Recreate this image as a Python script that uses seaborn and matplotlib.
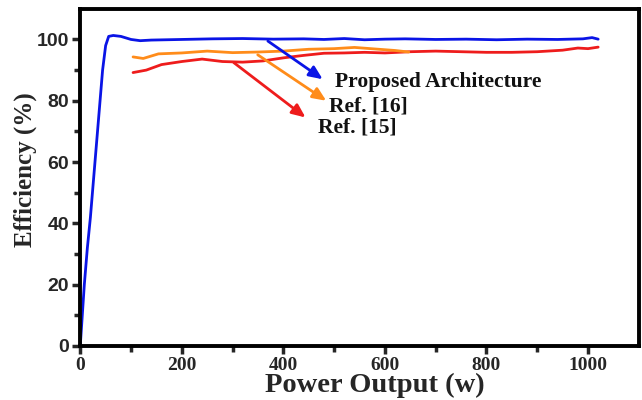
import matplotlib
matplotlib.use("Agg")
import matplotlib.pyplot as plt
import seaborn as sns
import pandas as pd

# Proposed Architecture
prop_x = [0, 4, 8, 14, 20, 26, 32, 38, 44, 50, 56, 65, 80, 100, 118, 140, 200, 260, 320, 380, 440, 480, 520, 560, 600, 640, 700, 760, 820, 880, 940, 990, 1008, 1020]
prop_y = [0, 10, 20, 32, 42, 54, 66, 78, 90, 98, 101, 101.3, 101.0, 100.0, 99.6, 99.8, 100.0, 100.2, 100.3, 100.1, 100.2, 100.0, 100.3, 99.9, 100.1, 100.2, 100.0, 100.1, 99.9, 100.1, 100.0, 100.2, 100.6, 100.1]

# Ref. [16]
ref16_x = [104, 124, 154, 200, 250, 300, 350, 400, 450, 500, 540, 580, 620, 647]
ref16_y = [94.3, 93.8, 95.3, 95.6, 96.2, 95.7, 95.9, 96.2, 96.8, 97.0, 97.4, 96.9, 96.4, 95.9]

# Ref. [15]
ref15_x = [104, 130, 160, 200, 240, 280, 320, 360, 400, 440, 480, 520, 560, 600, 650, 700, 750, 800, 850, 900, 950, 980, 1000, 1020]
ref15_y = [89.2, 90.0, 91.8, 92.8, 93.6, 92.8, 92.6, 93.0, 94.0, 94.8, 95.5, 95.6, 95.8, 95.6, 96.0, 96.2, 96.0, 95.8, 95.8, 96.0, 96.5, 97.2, 97.0, 97.5]

series_labels = ["Proposed Architecture", "Ref. [16]", "Ref. [15]"]
colors = ["#0a14e6", "#ff8c1a", "#ee1c1c"]

x_ticks = [0, 200, 400, 600, 800, 1000]
y_ticks = [0, 20, 40, 60, 80, 100]

sns.set_style("white")
fig, ax = plt.subplots(figsize=(6.42, 4.0), dpi=100)
fig.subplots_adjust(left=0.125, right=0.995, top=0.978, bottom=0.135)

for xs, ys, c in zip([ref15_x, ref16_x, prop_x], [ref15_y, ref16_y, prop_y], [colors[2], colors[1], colors[0]]):
    df = pd.DataFrame({"x": xs, "y": ys})
    sns.lineplot(data=df, x="x", y="y", ax=ax, color=c, linewidth=2.0, sort=False, estimator=None)

ax.set_xlim(0, 1100)
ax.set_ylim(0, 110)
ax.set_xticks(x_ticks)
ax.set_yticks(y_ticks)
ax.set_xticks(range(100, 1100, 200), minor=True)
ax.set_yticks(range(10, 110, 20), minor=True)
ax.set_xticklabels([str(v) for v in x_ticks], fontfamily="Liberation Serif", fontweight="bold", fontsize=14)
ax.set_yticklabels([str(v) for v in y_ticks], fontfamily="Liberation Sans", fontweight="bold", fontsize=14)
ax.tick_params(axis="both", which="major", direction="out", length=6, width=2.5, bottom=True, left=True, pad=2)
ax.tick_params(axis="both", which="minor", direction="out", length=4, width=2.5, bottom=True, left=True)
for s in ax.spines.values():
    s.set_linewidth(2.8)
    s.set_color("black")

ax.set_xlabel("Power Output (w)", fontfamily="Liberation Serif", fontweight="bold", fontsize=20.5)
ax.xaxis.set_label_coords(0.528, -0.081)
ax.set_ylabel("Efficiency (%)", fontfamily="Liberation Serif", fontweight="bold", fontsize=18)
ax.yaxis.set_label_coords(-0.077, 0.524)

# annotations with arrows
ann = [
    (series_labels[0], (365, 100.0), (482, 86.5), (501, 86.2), colors[0]),
    (series_labels[1], (345, 95.5), (489, 79.5), (489, 78.0), colors[1]),
    (series_labels[2], (298, 93.0), (448, 74.0), (469, 71.2), colors[2]),
]
for label, start, end, tpos, c in ann:
    ax.annotate("", xy=end, xytext=start,
                arrowprops=dict(arrowstyle="-|>,head_length=0.8,head_width=0.35", color=c, lw=2.0))
    ax.text(tpos[0], tpos[1], label, fontfamily="Liberation Serif", fontweight="bold", fontsize=15.5,
            va="center", ha="left", color="#111111")

fig.savefig("out.png", dpi=100)
